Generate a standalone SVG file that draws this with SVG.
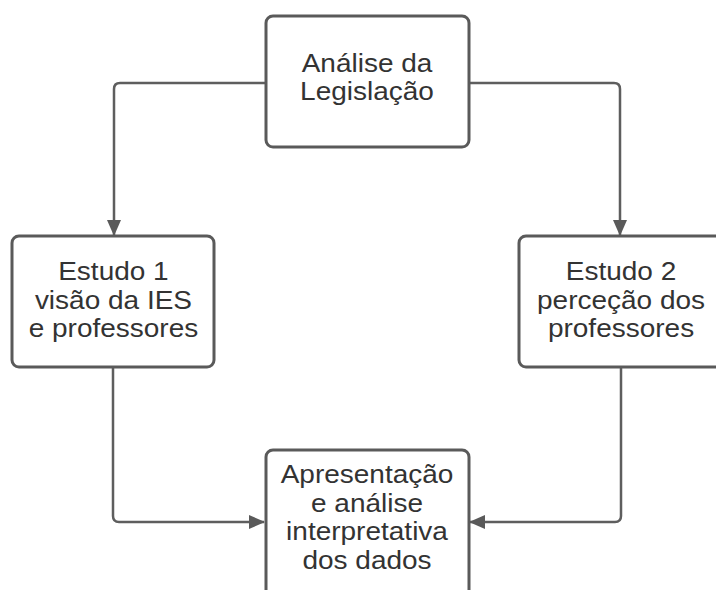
<svg xmlns="http://www.w3.org/2000/svg" width="716" height="590" viewBox="0 0 716 590">
<style>
.box{fill:#fff;stroke:#5a5a5a;stroke-width:3}
.t{font-family:"Liberation Sans",Arial,sans-serif;font-size:25px;fill:#333;text-anchor:middle}
.c{fill:none;stroke:#5e5e5e;stroke-width:2.5;stroke-linejoin:round}
</style>
<defs>
<marker id="ah" markerWidth="16" markerHeight="14" refX="15" refY="7" orient="auto" markerUnits="userSpaceOnUse">
<path d="M0,0 L16,7 L0,14 Z" fill="#5a5a5a"/>
</marker>
</defs>
<rect width="716" height="590" fill="#fff"/>
<g id="connectors">
<path class="c" d="M265,83 H120 Q114,83 114,89 V235" marker-end="url(#ah)"/>
<path class="c" d="M469,83 H614 Q620,83 620,89 V235" marker-end="url(#ah)"/>
<path class="c" d="M113,367 V516 Q113,522 119,522 H264" marker-end="url(#ah)"/>
<path class="c" d="M621,367 V516 Q621,522 615,522 H470" marker-end="url(#ah)"/>
</g>
<g id="n1">
<rect class="box" x="266" y="16" width="203" height="131" rx="7"/>
<g transform="scale(1.12 1)">
<text class="t" x="327.7" y="72">Análise da</text>
<text class="t" x="327.7" y="100">Legislação</text>
</g>
</g>
<g id="n2">
<rect class="box" x="12" y="236" width="202" height="131" rx="7"/>
<g transform="scale(1.12 1)">
<text class="t" x="101.3" y="280">Estudo 1</text>
<text class="t" x="101.3" y="309">visão da IES</text>
<text class="t" x="101.3" y="337">e professores</text>
</g>
</g>
<g id="n3">
<rect class="box" x="519" y="236" width="204" height="131" rx="7"/>
<g transform="scale(1.12 1)">
<text class="t" x="554.5" y="280">Estudo 2</text>
<text class="t" x="554.5" y="309">perceção dos</text>
<text class="t" x="554.5" y="337">professores</text>
</g>
</g>
<g id="n4">
<rect class="box" x="266" y="450" width="203" height="160" rx="7"/>
<g transform="scale(1.12 1)">
<text class="t" x="327.7" y="483">Apresentação</text>
<text class="t" x="327.7" y="512">e análise</text>
<text class="t" x="327.7" y="540">interpretativa</text>
<text class="t" x="327.7" y="569">dos dados</text>
</g>
</g>
</svg>
